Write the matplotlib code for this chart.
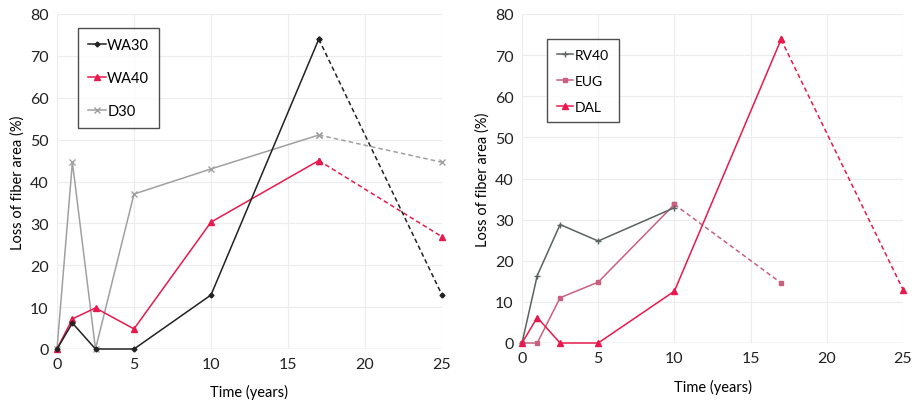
import matplotlib
matplotlib.use("Agg")
import matplotlib.pyplot as plt

# Left panel data
x_left = [0, 1, 2.5, 5, 10, 17]
x_left_ext = [17, 25]
wa30 = [0, 6.2, 0, 0, 12.9, 74.0]
wa30_ext = [74.0, 12.9]
wa40 = [0, 7.2, 9.8, 4.8, 30.3, 45.0]
wa40_ext = [45.0, 26.8]
d30 = [0, 44.6, 0, 37.0, 43.0, 51.1]
d30_ext = [51.1, 44.6]

# Right panel data
x_rv40 = [0, 1, 2.5, 5, 10]
rv40 = [0, 16.4, 28.8, 24.8, 32.9]
x_eug = [0, 1, 2.5, 5, 10]
eug = [0, 0, 11.0, 14.8, 33.7]
x_eug_ext = [10, 17]
eug_ext = [33.7, 14.6]
x_dal = [0, 1, 2.5, 5, 10, 17]
dal = [0, 6.2, 0, 0, 12.6, 73.8]
x_dal_ext = [17, 25]
dal_ext = [73.8, 13.0]

xticks = [0, 5, 10, 15, 20, 25]
yticks = [0, 10, 20, 30, 40, 50, 60, 70, 80]

C_BLACK = "#222222"
C_RED = "#e8194d"
C_GRAY = "#a0a0a0"
C_EUG = "#c9607f"
C_RV = "#5a6262"

plt.rcParams['font.family'] = ['Lato', 'DejaVu Sans']

fig = plt.figure(figsize=(9.15, 4.02), dpi=100)
axL = fig.add_axes([57/915, 52/402, 385/915, 335/402])
axR = fig.add_axes([522/915, 58/402, 381/915, 329/402])

def style(ax, xpad):
    ax.set_xlim(0, 25)
    ax.set_ylim(0, 80)
    ax.set_xticks(xticks)
    ax.set_yticks(yticks)
    ax.grid(True, color="#ececec", linewidth=0.8)
    ax.set_axisbelow(True)
    for s in ax.spines.values():
        s.set_visible(False)
    ax.axhline(0, color="#d8d8d8", linewidth=1, zorder=0)
    ax.tick_params(length=0, labelsize=11.5, pad=6, colors="#222222")
    ax.set_xlabel("Time (years)", fontsize=10.5, labelpad=xpad)
    ax.set_ylabel("Loss of fiber area (%)", fontsize=10.5, labelpad=4)
    for lbl in ax.get_xticklabels() + ax.get_yticklabels():
        lbl.set_clip_on(False)

style(axL, 9)
style(axR, 10)

lw = 1.1
dash = (0, (3, 2))
axL.plot(x_left, wa30, color=C_BLACK, lw=lw, marker="D", ms=2.5, label="WA30", clip_on=False, zorder=4)
axL.plot(x_left_ext, wa30_ext, color=C_BLACK, lw=lw, ls=dash, marker="D", ms=2.5, clip_on=False, zorder=4)
axL.plot(x_left, wa40, color=C_RED, lw=lw, marker="^", ms=4, label="WA40", clip_on=False, zorder=3)
axL.plot(x_left_ext, wa40_ext, color=C_RED, lw=lw, ls=dash, marker="^", ms=4, clip_on=False, zorder=3)
axL.plot(x_left, d30, color=C_GRAY, lw=lw, marker="x", ms=4, label="D30", clip_on=False, zorder=2)
axL.plot(x_left_ext, d30_ext, color=C_GRAY, lw=lw, ls=dash, marker="x", ms=4, clip_on=False, zorder=2)

axR.plot(x_rv40, rv40, color=C_RV, lw=lw, marker="+", ms=5, label="RV40", clip_on=False, zorder=3)
axR.plot(x_eug, eug, color=C_EUG, lw=lw, marker="s", ms=3.2, label="EUG", clip_on=False, zorder=2)
axR.plot(x_eug_ext, eug_ext, color=C_EUG, lw=lw, ls=dash, marker="s", ms=3.2, clip_on=False, zorder=2)
axR.plot(x_dal, dal, color=C_RED, lw=lw, marker="^", ms=4, label="DAL", clip_on=False, zorder=4)
axR.plot(x_dal_ext, dal_ext, color=C_RED, lw=lw, ls=dash, marker="^", ms=4, clip_on=False, zorder=4)

for ax, anchor, sp, fs in ((axL, (78/915, 1 - 29/402), 1.3, 10.5), (axR, (547/915, 1 - 40/402), 1.0, 10)):
    leg = ax.legend(loc="upper left", bbox_to_anchor=anchor, bbox_transform=fig.transFigure,
                    fontsize=fs, frameon=True, fancybox=False, handlelength=1.2,
                    handletextpad=0.1, labelspacing=sp, borderpad=0.7, borderaxespad=0)
    leg.get_frame().set_edgecolor("#222222")
    leg.get_frame().set_linewidth(1.0)

fig.savefig("out.png", dpi=100)
